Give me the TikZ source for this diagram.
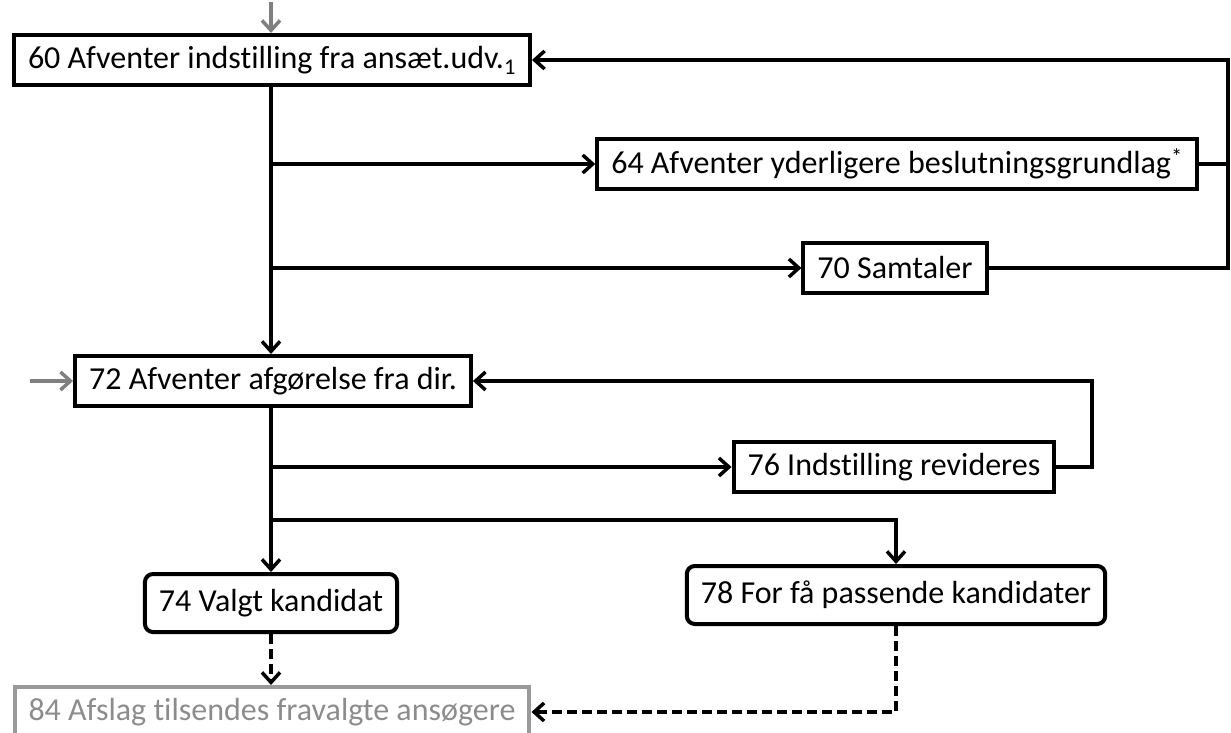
\documentclass[tikz,border=0pt]{standalone}
\usepackage{fontspec}
\setmainfont{Carlito}[Ligatures={NoCommon}]
\usepackage{tikz}
\usetikzlibrary{arrows.meta}
\tikzset{
    state/.style = {rectangle, minimum height=50pt, inner xsep=14pt, text centered, draw=black, line width=4pt, font=\fontsize{32}{36}\selectfont},
    result/.style = {state, rounded corners=8pt, minimum height=58pt},
    ended/.style = {state, draw=gray!80, text=gray!90},
    arrow/.style = {line width=3.5pt, -{Straight Barb[length=10pt, width=18pt, line width=3.5pt]}},
    dasharrow/.style = {arrow, dash pattern=on 10pt off 5pt}
}
\begin{document}
\begin{tikzpicture}[x=1pt, y=-1pt]
\useasboundingbox (0,0) rectangle (1231,733);
\node (n60) [state] at (272,60) {60 Afventer indstilling fra ansæt.udv.\textsubscript{1}};
\node (n64) [state] at (897,164) {64 Afventer yderligere beslutningsgrundlag\textsuperscript{*}};
\node (n70) [state] at (895,268) {70 Samtaler};
\node (n72) [state] at (273,381) {72 Afventer afgørelse fra dir.};
\node (n76) [state] at (894,467) {76 Indstilling revideres};
\node (n74) [result] at (271,603) {74 Valgt kandidat};
\node (n78) [result] at (896,595) {78 For få passende kandidater};
\node (n84) [ended] at (272,712) {84 Afslag tilsendes fravalgte ansøgere};
\coordinate (in60) at (271,2);
\coordinate (in72) at (30,381);
\coordinate (ret1) at (1228,0);
\coordinate (ret2) at (1092,0);
\coordinate (split) at (0,520);

\draw [arrow, gray] (in60) -- (n60.north -| in60);
\draw [arrow, gray] (in72) -- (n72.west);
\draw [arrow] (n60.south -| in60) -- (n72.north -| in60);
\draw [arrow] (n60.south -| in60) |- (n64.west);
\draw [arrow] (n60.south -| in60) |- (n70.west);
\draw [arrow] (n70.east) -| (ret1 |- n60.east) -- (n60.east);
\draw [line width=3.5pt] (n64.east) -- (ret1 |- n64.east);
\draw [arrow] (n76.east) -| (ret2 |- n72.east) -- (n72.east);
\draw [arrow] (n72.south -| n74) |- (n76.west);
\draw [arrow] (n72.south -| n74) -- (n74.north);
\draw [arrow] (n72.south -| n74) |- (split -| n74) -| (n78.north);
\draw [dasharrow] (n74.south) -- (n84.north -| n74);
\draw [dasharrow] (n78.south) |- (n84.east);
\end{tikzpicture}
\end{document}
